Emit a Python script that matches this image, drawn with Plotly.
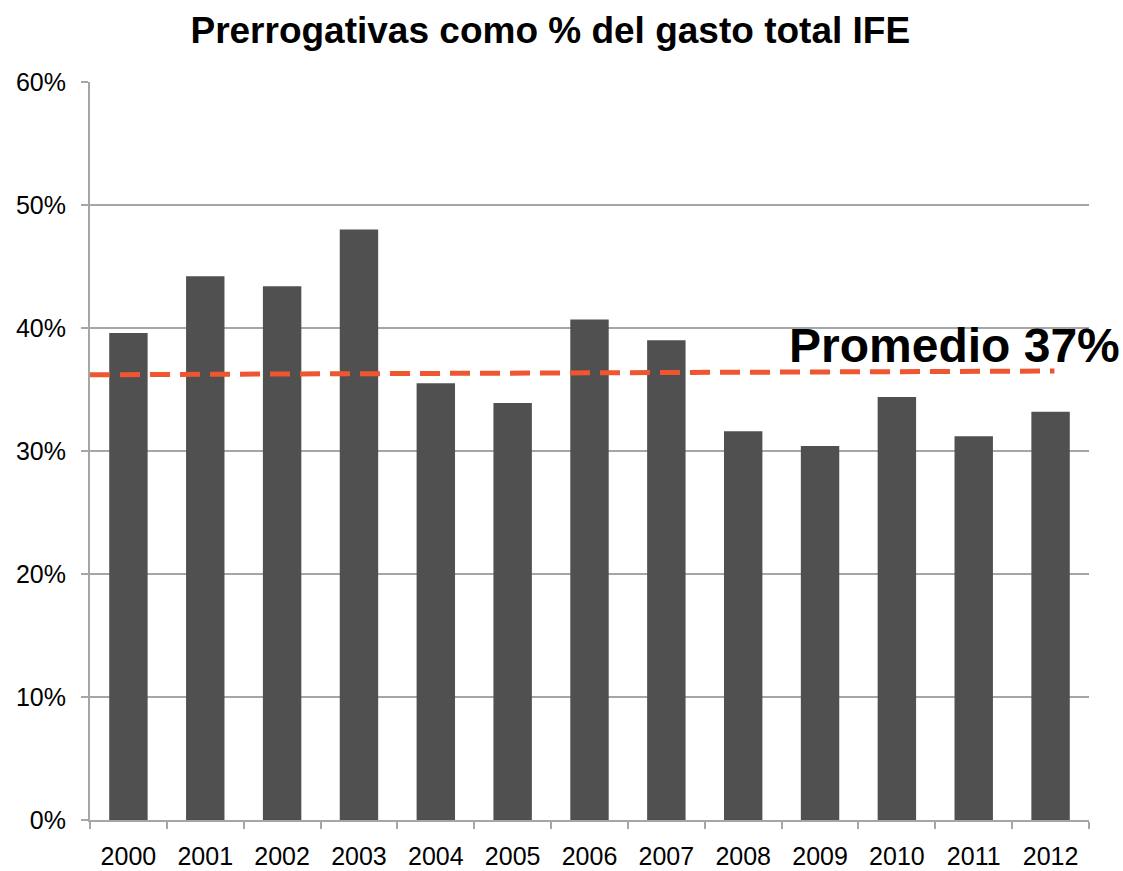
import plotly.graph_objects as go

years = ["2000", "2001", "2002", "2003", "2004", "2005", "2006",
         "2007", "2008", "2009", "2010", "2011", "2012"]
share = [0.396, 0.442, 0.434, 0.480, 0.355, 0.339, 0.407,
         0.390, 0.316, 0.304, 0.344, 0.312, 0.332]

# average line (slight slope as drawn in the source), endpoints on a numeric axis
avg_x = [-0.5, 12.05]
avg_y = [0.362, 0.365]
avg_label = "Promedio 37%"

fig = go.Figure()

fig.add_trace(go.Bar(
    x=years,
    y=share,
    width=0.5,
    marker=dict(color="#505050", line=dict(width=0)),
    showlegend=False,
))

# dashed average line on an overlaid numeric axis
fig.add_trace(go.Scatter(
    x=avg_x,
    y=avg_y,
    xaxis="x2",
    mode="lines",
    line=dict(color="#ee5530", width=5, dash="20px,10px"),
    showlegend=False,
    hoverinfo="skip",
))

fig.add_annotation(
    x=1.033, y=0.3855, xref="paper", yref="y",
    text="<b>" + avg_label + "</b>",
    showarrow=False, xanchor="right", yanchor="middle",
    font=dict(family="Liberation Sans, Arial, sans-serif", size=48, color="#000000"),
)

fig.update_layout(
    width=1123,
    height=871,
    margin=dict(l=90, r=34, t=82, b=51),
    paper_bgcolor="white",
    plot_bgcolor="white",
    bargap=0.5,
    font=dict(family="Liberation Sans, Arial, sans-serif", size=25, color="#000000"),
    title=dict(
        text="<b>Prerrogativas como % del gasto total IFE</b>",
        x=0.49, xanchor="center", y=0.966, yanchor="middle",
        font=dict(family="Liberation Sans, Arial, sans-serif", size=37, color="#000000"),
    ),
    xaxis=dict(
        type="category",
        tickson="boundaries",
        ticks="outside",
        ticklen=7,
        tickwidth=2,
        tickcolor="#a6a6a6",
        showline=True,
        linecolor="#a6a6a6",
        linewidth=2,
        showgrid=False,
        ticklabelstandoff=13,
        range=[-0.5, 12.5],
        automargin=False,
    ),
    xaxis2=dict(
        overlaying="x",
        range=[-0.5, 12.5],
        visible=False,
    ),
    yaxis=dict(
        range=[0, 0.6],
        dtick=0.1,
        tickformat=".0%",
        ticks="outside",
        ticklen=7,
        tickwidth=2,
        tickcolor="#a6a6a6",
        showline=True,
        linecolor="#a6a6a6",
        linewidth=2,
        showgrid=True,
        gridcolor="#a6a6a6",
        gridwidth=1.5,
        zeroline=False,
        ticklabelstandoff=10,
        automargin=False,
    ),
)

# drop the default page margin so the figure sits at the window's corner
fig.write_html(
    "out.html",
    config={"displayModeBar": False},
    post_script="document.body.style.margin='0';",
)
